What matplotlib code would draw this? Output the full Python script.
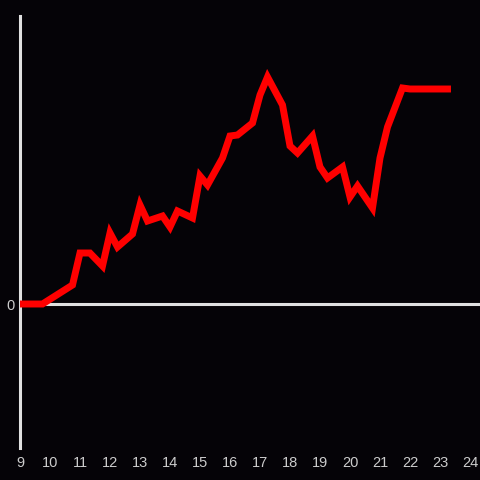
import matplotlib.pyplot as plt

# hours of day and the series values (arbitrary units, 0 = baseline)
hours = [9.0, 9.75, 10.75, 11.0, 11.33, 11.75, 12.0, 12.25, 12.75, 13.0, 13.25,
         13.75, 14.0, 14.25, 14.75, 15.0, 15.25, 15.75, 16.0, 16.25, 16.75,
         17.0, 17.25, 17.75, 18.0, 18.25, 18.75, 19.0, 19.25, 19.75, 20.0,
         20.25, 20.75, 21.0, 21.25, 21.75, 22.0, 23.25]
values = [0, 0, 19, 51, 51, 38, 71, 57, 70, 99, 83,
          88, 77, 93, 86, 128, 119, 146, 168, 169, 181,
          209, 227, 199, 158, 151, 168, 137, 126, 137, 107,
          118, 96, 146, 177, 216, 215, 215]
xticks = list(range(9, 25))

bg = '#050307'
axis_col = '#e0e0e0'

fig = plt.figure(figsize=(4.8, 4.8), dpi=100, facecolor=bg)
ax = fig.add_axes([20/480, 32/480, 460/480, 432/480], facecolor=bg)

ax.axhline(0, color=axis_col, lw=2.2, zorder=1)
ax.plot(hours, values, color='#ff0000', lw=5, zorder=3, solid_joinstyle='miter')

ax.set_xlim(9, 9 + 460/30)
ax.set_ylim(-144, 288)

for s in ['top', 'right', 'bottom']:
    ax.spines[s].set_visible(False)
ax.spines['left'].set_color(axis_col)
ax.spines['left'].set_linewidth(2.2)

ax.set_xticks(xticks)
ax.set_xticklabels([str(t) for t in xticks])
ax.set_yticks([0])
ax.set_yticklabels(['0'])
ax.tick_params(axis='both', length=0, colors='#cccccc', labelsize=10.5)
ax.tick_params(axis='x', pad=6)
ax.tick_params(axis='y', pad=4)
for lab in ax.get_xticklabels() + ax.get_yticklabels():
    lab.set_family('Liberation Sans')

fig.savefig('out.png', dpi=100, facecolor=bg)
